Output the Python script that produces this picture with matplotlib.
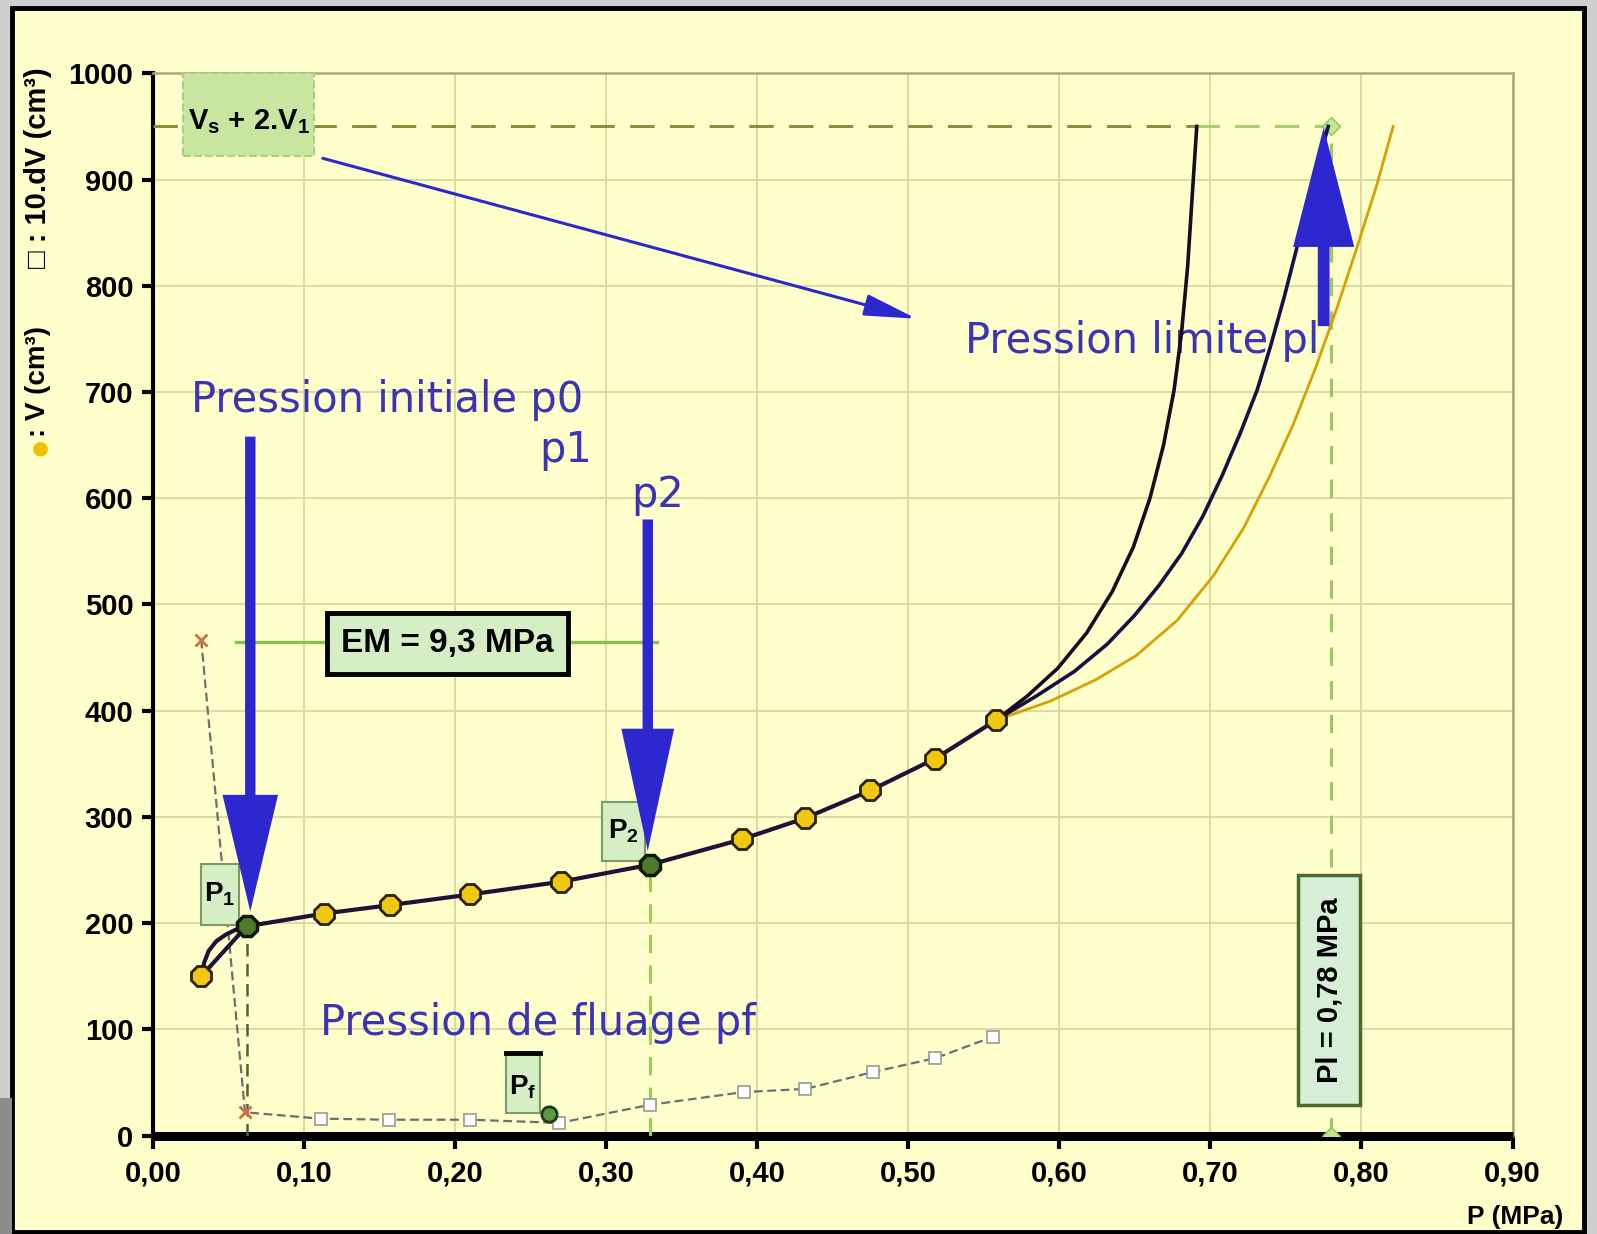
import matplotlib.pyplot as plt
import matplotlib.patches as mpatches
from matplotlib.patches import FancyArrowPatch, Rectangle

plt.rcParams['mathtext.fontset'] = 'custom'
plt.rcParams['mathtext.rm'] = 'Liberation Sans:bold'
plt.rcParams['mathtext.it'] = 'Liberation Sans:bold'
plt.rcParams['mathtext.bf'] = 'Liberation Sans:bold'

# Essai pressiometrique : paliers de pression et volumes injectes
p_essai = [0.032, 0.062, 0.113, 0.157, 0.210, 0.270, 0.329, 0.390, 0.432, 0.475, 0.518, 0.558]
v_essai = [150, 197, 209, 217, 227, 239, 255, 279, 299, 325, 355, 391]

# raccord entre le premier palier et p1
p_debut = [0.032, 0.034, 0.037, 0.042, 0.048, 0.055, 0.062]
v_debut = [150, 163, 174, 183, 189, 194, 197]

# trois extrapolations de la courbe jusqu'a Vs + 2.V1
p_extra_1 = [0.558, 0.579, 0.599, 0.618, 0.635, 0.649, 0.660, 0.669, 0.676, 0.681, 0.685, 0.688, 0.691]
v_extra_1 = [391, 414, 440, 473, 512, 554, 600, 650, 702, 757, 819, 885, 950]
p_extra_2 = [0.558, 0.585, 0.610, 0.632, 0.650, 0.666, 0.681, 0.695, 0.708, 0.720, 0.731, 0.740,
             0.749, 0.758, 0.767, 0.778]
v_extra_2 = [391, 414, 437, 463, 490, 518, 548, 583, 622, 662, 702, 744, 790, 840, 893, 950]
p_extra_3 = [0.558, 0.594, 0.624, 0.651, 0.678, 0.702, 0.722, 0.739, 0.755, 0.770, 0.784, 0.797, 0.810, 0.821]
v_extra_3 = [391, 409, 429, 452, 485, 527, 572, 620, 670, 724, 780, 836, 894, 950]

# courbe de fluage 10.dV
p_fluage = [0.032, 0.061, 0.111, 0.156, 0.210, 0.269, 0.329, 0.391, 0.432, 0.477, 0.518, 0.556]
dv_fluage = [467, 22, 16, 15, 15, 12, 29, 41, 44, 60, 73, 93]

p1 = 0.062
v1 = 197
p2 = 0.329
v2 = 255
pf = 0.262
dv_pf = 20
pl = 0.78
v_limite = 950
em = 9.3
v_em = 465

x_ticks = [0.0, 0.1, 0.2, 0.3, 0.4, 0.5, 0.6, 0.7, 0.8, 0.9]
y_ticks = [0, 100, 200, 300, 400, 500, 600, 700, 800, 900, 1000]

bleu = '#2D27D0'
bleu_texte = '#3B34B5'
fond = '#FFFFCC'
vert_boite = '#D6EEC4'

fig = plt.figure(figsize=(15.97, 12.34), dpi=100)
fig.patch.set_facecolor('#CFCFCF')
fig.add_artist(Rectangle((0.0075, 0.0016), 0.9844, 0.9919, transform=fig.transFigure,
                         facecolor=fond, edgecolor='black', linewidth=3.5, zorder=-1))
fig.add_artist(Rectangle((0.0, 0.0), 0.0075, 0.11, transform=fig.transFigure,
                         facecolor='#8C8C8C', edgecolor='none', zorder=-1))

ax = fig.add_axes([0.0957, 0.0797, 0.8514, 0.8609])
ax.set_facecolor(fond)
ax.set_xlim(0, 0.9)
ax.set_ylim(0, 1000)

for s in ['top', 'right']:
    ax.spines[s].set_color('#A8A878')
    ax.spines[s].set_linewidth(1.8)
ax.spines['left'].set_linewidth(3)
ax.spines['bottom'].set_linewidth(6.5)
ax.spines['bottom'].set_capstyle('butt')

ax.set_xticks(x_ticks)
ax.set_xticklabels([f'{t:.2f}'.replace('.', ',') for t in x_ticks])
ax.set_yticks(y_ticks)
ax.set_yticklabels([str(t) for t in y_ticks])
ax.tick_params(axis='x', direction='out', length=9, width=3, pad=8)
ax.tick_params(axis='y', direction='out', length=8, width=3, pad=6)
for lab in ax.get_xticklabels() + ax.get_yticklabels():
    lab.set_fontfamily('Liberation Sans')
    lab.set_fontweight('bold')
    lab.set_fontsize(21)

ax.grid(True, color='#D8D8A0', linewidth=1.3)
ax.set_axisbelow(True)

# textes explicatifs (sous les courbes)
ax.text(0.025, 681, 'Pression initiale p0', color=bleu_texte, fontsize=30,
        family='DejaVu Sans', va='baseline', zorder=2)
ax.text(0.256, 634, 'p1', color=bleu_texte, fontsize=30, family='DejaVu Sans', va='baseline', zorder=2)
ax.text(0.3165, 592, 'p2', color=bleu_texte, fontsize=30, family='DejaVu Sans', va='baseline', zorder=2)
ax.text(0.1106, 95, 'Pression de fluage pf', color=bleu_texte, fontsize=30,
        family='DejaVu Sans', va='baseline', zorder=2)
ax.text(0.5379, 737, 'Pression limite pl', color=bleu_texte, fontsize=30,
        family='DejaVu Sans', va='baseline', zorder=2)

# lignes de construction
ax.plot([0, 0.69], [v_limite, v_limite], color='#8A8F3A', lw=2.2, dashes=(8, 5), zorder=3)
ax.plot([0.69, pl], [v_limite, v_limite], color='#A8D068', lw=2.2, dashes=(8, 5), zorder=3)
ax.plot([pl, pl], [0, v_limite], color='#98C860', lw=2.2, dashes=(6, 5), zorder=3)
ax.plot([p1, p1], [0, v1], color='#55602A', lw=1.8, dashes=(5, 3), zorder=3)
ax.plot([p2, p2], [0, v2], color='#9CCB5C', lw=2.2, dashes=(6, 4), zorder=3)
ax.plot([0.055, 0.334], [v_em, v_em], color='#8CBF4A', lw=2.4, zorder=3)
ax.plot([pl, pl], [v_limite, 0], linestyle='none', marker='D', markersize=9,
        markerfacecolor='#C0E890', markeredgecolor='#90C060', zorder=4)

# courbe de fluage
ax.plot(p_fluage, dv_fluage, color='#6E6E6E', lw=1.6, dashes=(4, 2), zorder=4)
ax.plot(p_fluage[:2], dv_fluage[:2], linestyle='none', marker='x', markersize=9,
        markeredgewidth=2, color='#D07040', zorder=5)
ax.plot(p_fluage[2:], dv_fluage[2:], linestyle='none', marker='s', markersize=9,
        markerfacecolor='white', markeredgecolor='#9A9A9A', markeredgewidth=1.2, zorder=5)
ax.plot([pf], [dv_pf], linestyle='none', marker='o', markersize=11,
        markerfacecolor='#5A9A40', markeredgecolor='#1E3A10', markeredgewidth=2, zorder=6)

# extrapolations
ax.plot(p_extra_3, v_extra_3, color='#D8A000', lw=2, zorder=5)
ax.plot(p_extra_2, v_extra_2, color='#121245', lw=2.6, zorder=5)
ax.plot(p_extra_1, v_extra_1, color='#1C0A1E', lw=2.6, zorder=5)

# courbe pressiometrique
ax.plot(p_debut, v_debut, color='#20103A', lw=3, zorder=5)
ax.plot(p_essai, v_essai, color='#20103A', lw=3, zorder=5)
ax.plot(p_essai, v_essai, linestyle='none', marker='8', markersize=16,
        markerfacecolor='#F0C810', markeredgecolor='#2A2000', markeredgewidth=2, zorder=6)
ax.plot([p1, p2], [v1, v2], linestyle='none', marker='8', markersize=16,
        markerfacecolor='#4E7A2C', markeredgecolor='#0E1A08', markeredgewidth=2.5, zorder=7)

# etiquettes encadrees
ax.add_patch(Rectangle((0.0201, 922), 0.0863, 78, facecolor='#C8E6A0', edgecolor='#A8D080',
                       lw=1.5, linestyle='--', zorder=6))
ax.text(0.0633, 955, r'V$_s$ + 2.V$_1$', fontsize=21, family='Liberation Sans',
        fontweight='bold', ha='center', va='center', zorder=7)

ax.add_patch(Rectangle((0.1150, 434.5), 0.160, 57.4, facecolor=vert_boite, edgecolor='black',
                       lw=3.5, zorder=6))
ax.text(0.195, 463, f'EM = {em:.1f}'.replace('.', ',') + ' MPa', fontsize=24,
        family='Liberation Sans', fontweight='bold', ha='center', va='center', zorder=7)

ax.add_patch(Rectangle((0.7583, 29), 0.0405, 216, facecolor='#D6EED6', edgecolor='#4A6A30',
                       lw=2.5, zorder=6))
ax.text(0.7786, 137, f'Pl = {pl:.2f}'.replace('.', ',') + ' MPa', fontsize=21, rotation=90,
        family='Liberation Sans', fontweight='bold', ha='center', va='center', zorder=7)

ax.add_patch(Rectangle((0.0316, 198), 0.0257, 58, facecolor=vert_boite, edgecolor='#7A9A6A',
                       lw=1.5, zorder=6))
ax.text(0.0445, 227, r'P$_1$', fontsize=20, family='Liberation Sans', fontweight='bold',
        ha='center', va='center', zorder=7)
ax.add_patch(Rectangle((0.2972, 259), 0.0284, 55, facecolor=vert_boite, edgecolor='#7A9A6A',
                       lw=1.5, zorder=6))
ax.text(0.3114, 287, r'P$_2$', fontsize=20, family='Liberation Sans', fontweight='bold',
        ha='center', va='center', zorder=7)
ax.add_patch(Rectangle((0.2339, 21), 0.0222, 57, facecolor=vert_boite, edgecolor='#7A9A6A',
                       lw=1.5, zorder=4))
ax.plot([0.2339, 0.2561], [78, 78], color='black', lw=3.5, zorder=4)
ax.text(0.245, 46, r'P$_f$', fontsize=20, family='Liberation Sans', fontweight='bold',
        ha='center', va='center', zorder=4)


# fleches bleues
def fleche(x0, y0, x1, y1, hl, hw, tw):
    style = mpatches.ArrowStyle.Simple(head_length=hl, head_width=hw, tail_width=tw)
    ax.add_patch(FancyArrowPatch((x0, y0), (x1, y1), arrowstyle=style, mutation_scale=1,
                                 color=bleu, lw=0, shrinkA=0, shrinkB=0, zorder=8))


fleche(0.0645, 658, 0.0645, 211, 84, 40, 7.5)
fleche(0.3276, 580, 0.3276, 268, 88, 38, 7.5)
fleche(0.775, 762, 0.775, 949, 86, 44, 8.5)

ax.add_patch(FancyArrowPatch((0.1125, 920), (0.5055, 769),
                             arrowstyle='-|>,head_length=1.6,head_width=0.33', mutation_scale=20,
                             color=bleu, lw=2.2, shrinkA=0, shrinkB=0, zorder=8))

# titres des axes
fig.text(1515 / 1597, 1 - 1217 / 1234, 'P (MPa)', fontsize=19, family='Liberation Sans',
         fontweight='bold', ha='center', va='center')
fig.text(40 / 1597, 1 - 448 / 1234, '●', color='#F0C000', fontsize=14,
         family='DejaVu Sans', ha='center', va='center')
fig.text(38 / 1597, 1 - 437 / 1234, ': V (cm³)', rotation=90, fontsize=20,
         family=['Liberation Sans', 'DejaVu Sans'], fontweight='bold', ha='center', va='bottom')
fig.text(38 / 1597, 1 - 268 / 1234, '□ : 10.dV (cm³)', rotation=90, fontsize=21,
         family=['Liberation Sans', 'DejaVu Sans'], fontweight='bold', ha='center', va='bottom')

fig.savefig('out.png', dpi=100, facecolor=fig.get_facecolor())
